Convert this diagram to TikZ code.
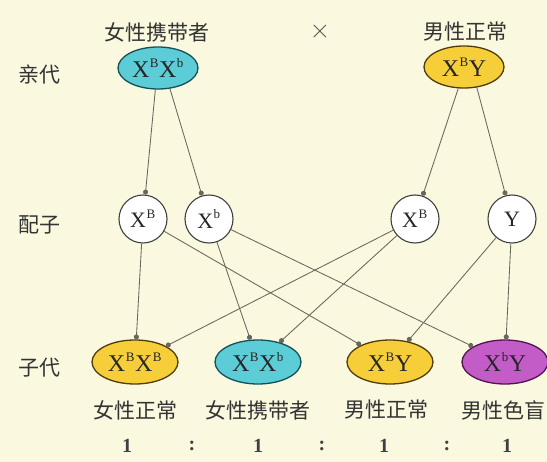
\documentclass[tikz,border=0pt]{standalone}
\usepackage{fontspec}
\newfontfamily\cjk{Noto Sans CJK SC}
\newfontfamily\gfont{Liberation Serif}
\usetikzlibrary{arrows.meta,shapes.geometric}
\definecolor{bg}{RGB}{250,248,222}
\definecolor{cyanfill}{RGB}{92,204,214}
\definecolor{cyanline}{RGB}{20,80,90}
\definecolor{yelfill}{RGB}{246,206,58}
\definecolor{yelline}{RGB}{80,60,10}
\definecolor{purfill}{RGB}{196,92,200}
\definecolor{purline}{RGB}{80,20,80}
\definecolor{linkcol}{RGB}{105,103,92}
\newcommand{\al}[1]{\kern0.5pt\raisebox{0.42em}{\fontsize{13}{14}\selectfont #1}\kern0.5pt}
\begin{document}
\begin{tikzpicture}[x=1pt,y=-1pt,
  lab/.style={font=\cjk\fontsize{21}{24}\selectfont, text=black!80, inner sep=0pt},
  geno/.style={ellipse, draw, line width=1.3pt, minimum width=80pt, minimum height=42pt, inner sep=0pt, font=\gfont\fontsize{24}{26}\selectfont, text=black!85},
  kid/.style={geno, minimum width=86pt, minimum height=44pt},
  gam/.style={circle, draw=black!75, fill=white, line width=1.1pt, minimum size=48pt, inner sep=0pt, font=\gfont\fontsize{22}{24}\selectfont, text=black!85},
  link/.style={draw=linkcol, line width=0.85pt, -{Circle[length=5pt]}},
  num/.style={font=\gfont\bfseries\fontsize{20}{24}\selectfont, text=black!75, inner sep=0pt}
]
\fill[bg] (0,0) rectangle (547,462);
\useasboundingbox (0,0) rectangle (547,462);

% row labels
\node[lab] (l1) at (40,75) {亲代};
\node[lab] (l2) at (40,225) {配子};
\node[lab] (l3) at (40,368) {子代};

% parents
\node[lab] (t1) at (157,32) {女性携带者};
\node[font=\fontsize{28}{30}\selectfont, text=black!70, inner sep=0pt] (cross) at (320,32) {×};
\node[lab] (t2) at (465,32) {男性正常};

\node[geno, fill=cyanfill, draw=cyanline] (p1) at (158,68) {X\al{B}X\al{b}};
\node[geno, fill=yelfill, draw=yelline] (p2) at (464,67) {X\al{B}Y};

% gametes
\node[gam] (g1) at (143,219) {X\al{B}};
\node[gam] (g2) at (209,219) {X\al{b}};
\node[gam] (g3) at (415,219) {X\al{B}};
\node[gam] (g4) at (512,219) {Y};

% offspring
\node[kid, fill=yelfill, draw=yelline] (o1) at (135,362) {X\al{B}X\al{B}};
\node[kid, fill=cyanfill, draw=cyanline] (o2) at (258,362) {X\al{B}X\al{b}};
\node[kid, fill=yelfill, draw=yelline] (o3) at (390,362) {X\al{B}Y};
\node[kid, fill=purfill, draw=purline] (o4) at (505,362) {X\al{b}Y};

% connectors parents -> gametes
\draw[link] (p1.-97) -- (g1);
\draw[link] (p1.-60) -- (g2);
\draw[link] (p2.-105) -- (g3);
\draw[link] (p2.-58) -- (g4);

% connectors gametes -> offspring
\draw[link] (g1) -- (o1);
\draw[link] (g1) -- (o3);
\draw[link] (g2) -- (o2);
\draw[link] (g2) -- (o4);
\draw[link] (g3) -- (o1);
\draw[link] (g3) -- (o2);
\draw[link] (g4) -- (o3);
\draw[link] (g4) -- (o4);

% phenotype labels
\node[lab] (f1) at (135,410) {女性正常};
\node[lab] (f2) at (258,410) {女性携带者};
\node[lab] (f3) at (386,410) {男性正常};
\node[lab] (f4) at (503,410) {男性色盲};

% ratio
\node[num] (r1) at (127,446) {1};
\node[num] (c1) at (192,446) {:};
\node[num] (r2) at (258,446) {1};
\node[num] (c2) at (322,446) {:};
\node[num] (r3) at (384,446) {1};
\node[num] (c3) at (447,446) {:};
\node[num] (r4) at (507,446) {1};
\end{tikzpicture}
\end{document}
